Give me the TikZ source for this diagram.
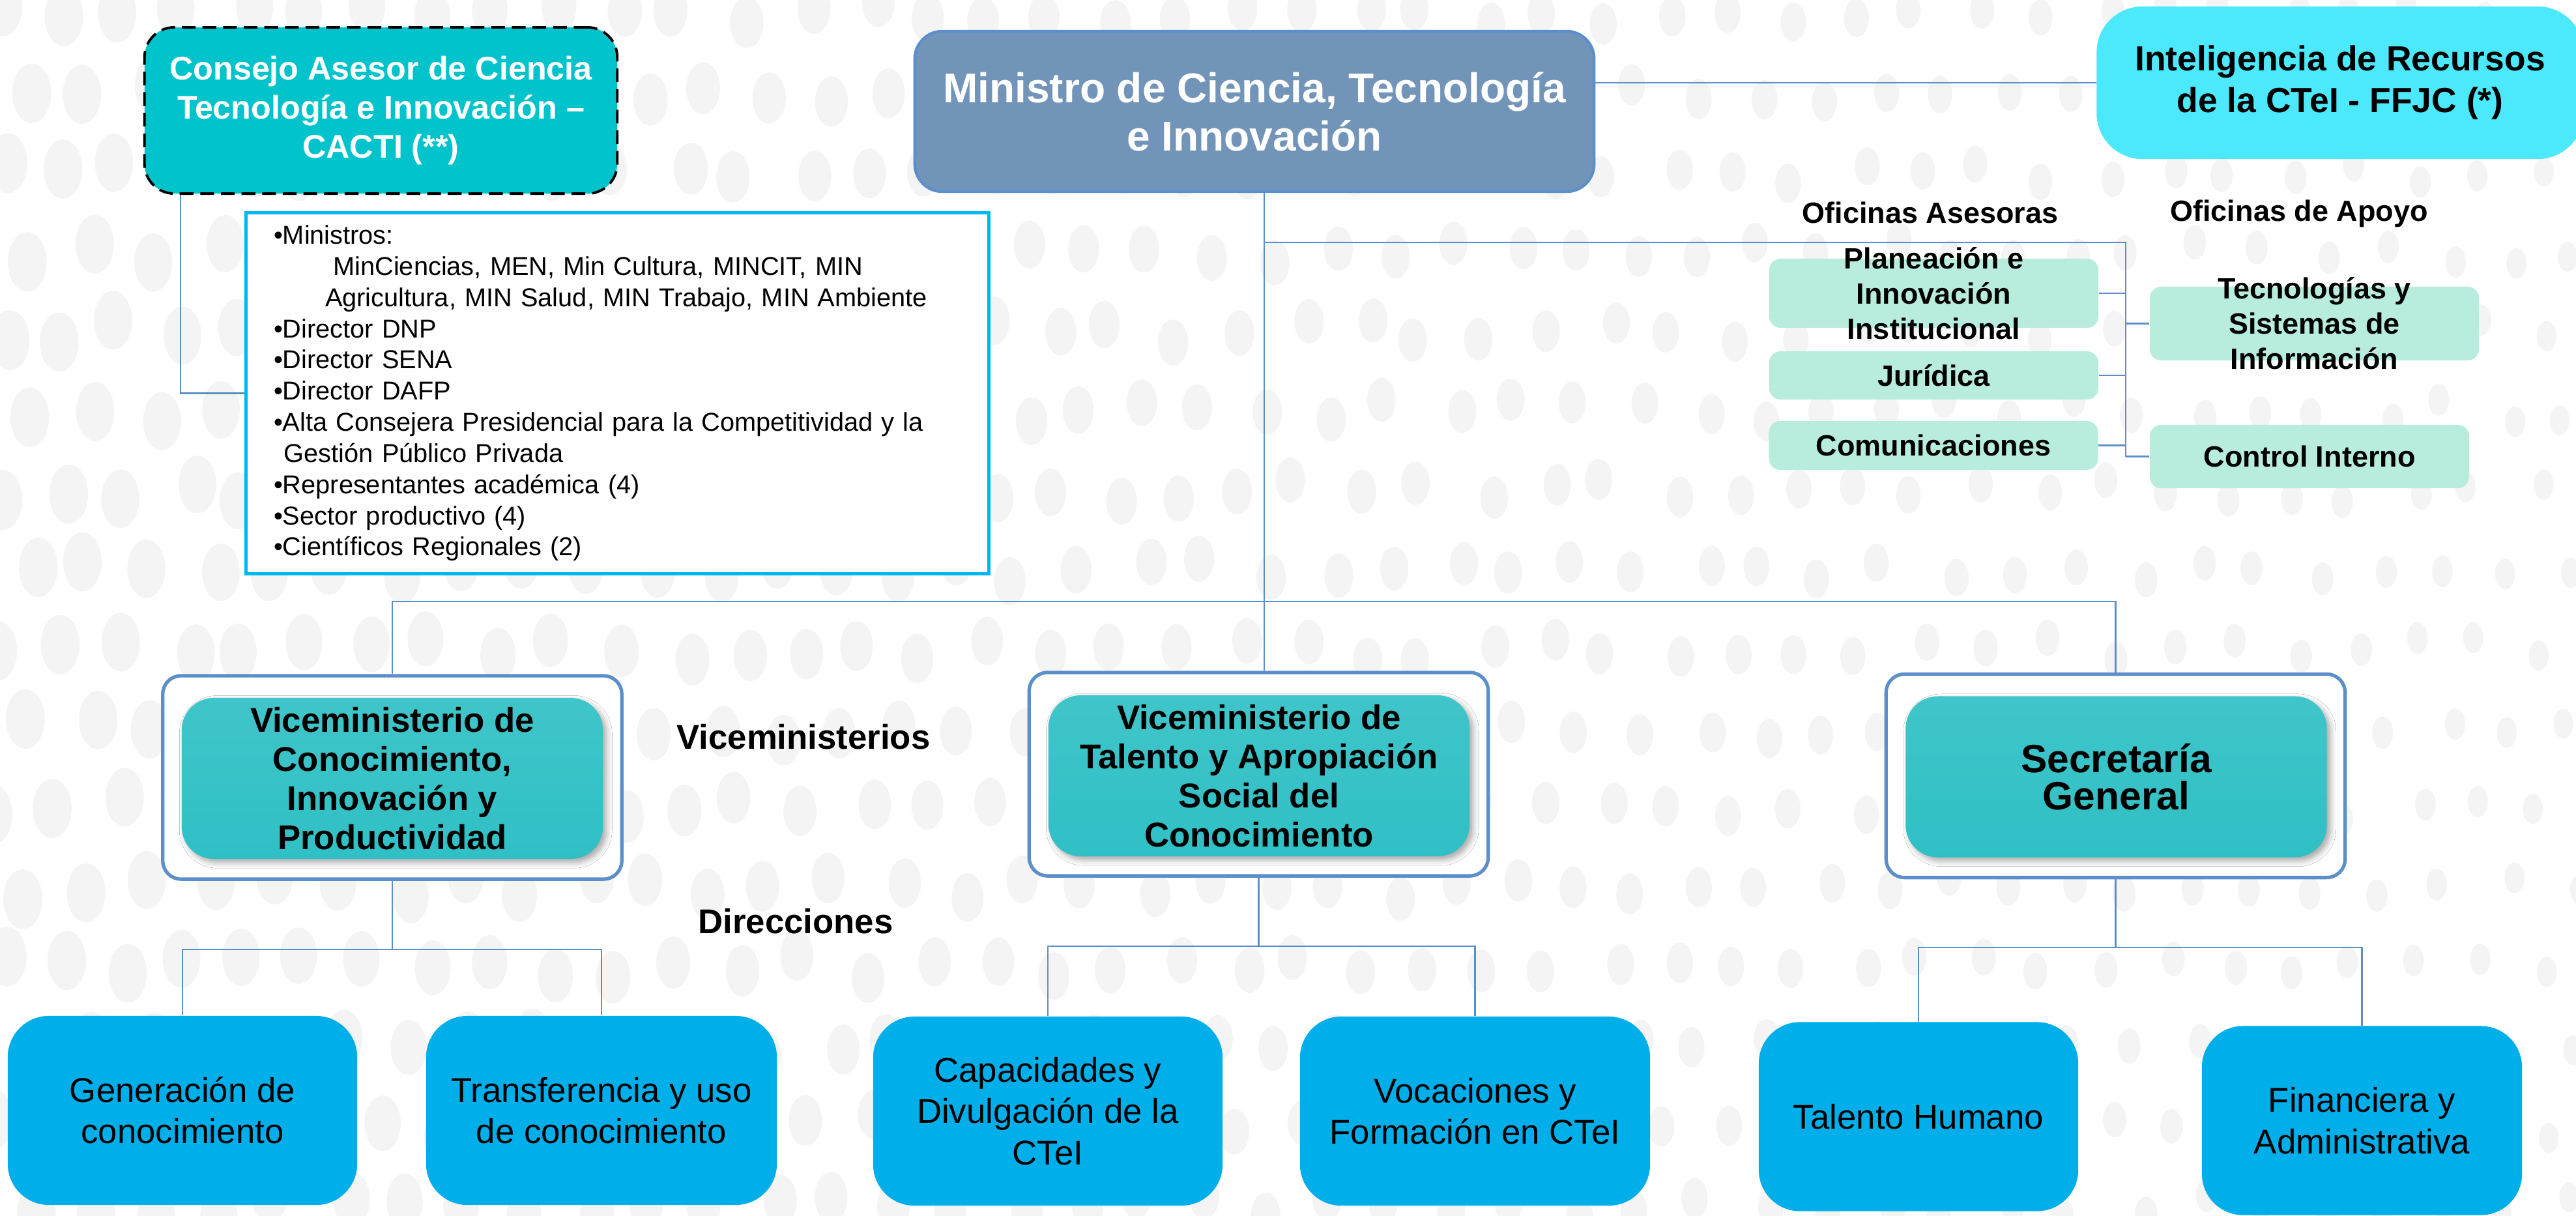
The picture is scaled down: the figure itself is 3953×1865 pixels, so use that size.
\documentclass[tikz,border=0pt]{standalone}
\usepackage{fontspec}
\setmainfont{Liberation Sans}
\usetikzlibrary{shadows.blur}

\definecolor{cactiteal}{HTML}{00C3CB}
\definecolor{minblue}{HTML}{7194B8}
\definecolor{minedge}{HTML}{5B8FCB}
\definecolor{intelcyan}{HTML}{4CE9FD}
\definecolor{mint}{HTML}{B8ECDC}
\definecolor{viceteal}{HTML}{2FC0C5}
\definecolor{dirblue}{HTML}{00AEE9}
\definecolor{listcyan}{HTML}{00B8EF}
\definecolor{linkblue}{HTML}{5B8FC9}
\definecolor{dotgray}{HTML}{F4F4F4}

\tikzset{
	conn/.style={draw=linkblue, line width=0.6pt},
	cactibox/.style={
			fill=cactiteal, draw=black, line width=1.1pt, dash pattern=on 6pt off 3pt,
			rounded corners=13pt, minimum width=7.25cm, minimum height=2.55cm,
			align=center, text=white, font=\fontsize{14.3}{17}\selectfont\bfseries
		},
	minbox/.style={
			fill=minblue, draw=minedge, line width=1.2pt, rounded corners=12pt,
			minimum width=10.42cm, minimum height=2.46cm,
			align=center, text=white, font=\fontsize{18.2}{21}\selectfont\bfseries
		},
	intelbox/.style={
			fill=intelcyan, rounded corners=20pt, minimum width=7.47cm, minimum height=2.34cm,
			align=center, font=\fontsize{15.2}{18.2}\selectfont\bfseries
		},
	listbox/.style={
			draw=listcyan, line width=1.4pt, fill=white, minimum width=11.39cm, minimum height=5.53cm,
			text width=300pt, inner xsep=11pt, align=left, font=\fontsize{11.3}{13.6}\selectfont
		},
	offlabel/.style={anchor=base, font=\fontsize{12.8}{15}\selectfont\bfseries},
	mintbox/.style={
			fill=mint, rounded corners=5pt, minimum width=5.05cm, inner sep=0pt, inner ysep=-9pt,
			align=center, font=\fontsize{12.8}{15.4}\selectfont\bfseries
		},
	viceframe/.style={
			draw=linkblue, line width=1.5pt, fill=white, rounded corners=8pt,
			minimum width=7.04cm, minimum height=3.12cm
		},
	vicebox/.style={
			top color=viceteal!92!white, bottom color=viceteal, rounded corners=14pt,
			minimum width=6.46cm, minimum height=2.47cm, align=center,
			blur shadow={shadow xshift=1.5pt, shadow yshift=-1.5pt, shadow blur radius=2.5pt, shadow opacity=35}
		},
	vicetext/.style={font=\fontsize{15}{17}\selectfont\bfseries},
	sectlabel/.style={anchor=base, font=\fontsize{15}{18}\selectfont\bfseries},
	dirbox/.style={
			fill=dirblue, rounded corners=18pt, minimum height=2.9cm,
			align=center, font=\fontsize{15}{18}\selectfont
		}
}

\begin{document}
\begin{tikzpicture}[x=0.01cm, y=-0.01cm]

	\useasboundingbox (0,0) rectangle (3953,1865);
	\clip (0,0) rectangle (3953,1865);

	% Background dots
	\pgfmathsetseed{42}
	\foreach \i in {0,...,42}{
			\foreach \j in {0,...,15}{
					\pgfmathsetmacro{\dx}{\i*95 + mod(\j,2)*47 + rand*18}
					\pgfmathsetmacro{\dy}{\j*122 + 20 + rand*18}
					\pgfmathsetmacro{\rx}{0.3*(1 - 0.5*\dx/3953)}
					\pgfmathsetmacro{\ry}{0.46*(1 - 0.5*\dx/3953)}
					\fill[dotgray] (\dx,\dy) ellipse [x radius=\rx cm, y radius=\ry cm];
				}
		}

	% Top row
	\node[cactibox] (cacti) at (584.5,169.5) {Consejo Asesor de Ciencia\\Tecnología e Innovación –\\CACTI (**)};
	\node[minbox] (min) at (1925,171) {Ministro de Ciencia, Tecnología\\e Innovación};
	\node[intelbox] (intel) at (3591,127) {Inteligencia de Recursos\\de la CTeI - FFJC (*)};

	% CACTI members
	\node[listbox] (bul) at (947.5,603.5) {•Ministros:\\
		\hspace*{26pt}MinCiencias, MEN, Min Cultura, MINCIT, MIN\\
		\hspace*{22.5pt}Agricultura, MIN Salud, MIN Trabajo, MIN Ambiente\\
		•Director DNP\\
		•Director SENA\\
		•Director DAFP\\
		•Alta Consejera Presidencial para la Competitividad y la\\
		\hspace*{4.5pt}Gestión Público Privada\\
		•Representantes académica (4)\\
		•Sector productivo (4)\\
		•Científicos Regionales (2)};

	% Offices
	\node[offlabel] (asesor) at (2962,342) {Oficinas Asesoras};
	\node[offlabel] (apoyo) at (3528,339) {Oficinas de Apoyo};
	\node[mintbox, minimum height=1.06cm] (plan) at (2967.5,450) {Planeación e\\Innovación\\Institucional};
	\node[mintbox, minimum height=0.74cm] (jur) at (2967.5,576) {Jurídica};
	\node[mintbox, minimum height=0.75cm] (com) at (2967,683.5) {Comunicaciones};
	\node[mintbox, minimum height=1.13cm] (tec) at (3551.5,496.5) {Tecnologías y\\Sistemas de\\Información};
	\node[mintbox, minimum width=4.9cm, minimum height=0.97cm] (ctrl) at (3544,700.5) {Control Interno};

	% Viceministerios
	\node[viceframe] (vmAf) at (602,1193) {};
	\node[vicebox] (vmA) at (602,1194.5) {};
	\node[vicetext, align=center] at (vmA) {Viceministerio de\\Conocimiento,\\Innovación y\\Productividad};
	\node[viceframe] (vmBf) at (1931.5,1188) {};
	\node[vicebox] (vmB) at (1932,1190.5) {};
	\node[vicetext, align=center] at (vmB) {Viceministerio de\\Talento y Apropiación\\Social del\\Conocimiento};
	\node[viceframe] (vmCf) at (3246.5,1190.5) {};
	\node[vicebox] (vmC) at (3247.5,1192) {};
	\node[align=center, font=\fontsize{17.2}{16.2}\selectfont\bfseries] at (vmC) {Secretaría\\General};

	\node[sectlabel] (vlab) at (1233,1149) {Viceministerios};
	\node[sectlabel] (dlab) at (1221,1432) {Direcciones};

	% Direcciones
	\node[dirbox, minimum width=5.36cm] (gen) at (280,1704) {Generación de\\conocimiento};
	\node[dirbox, minimum width=5.38cm] (tra) at (923,1704) {Transferencia y uso\\de conocimiento};
	\node[dirbox, minimum width=5.36cm] (cap) at (1608,1705) {Capacidades y\\Divulgación de la\\CTeI};
	\node[dirbox, minimum width=5.37cm] (voc) at (2263.5,1705) {Vocaciones y\\Formación en CTeI};
	\node[dirbox, minimum width=4.9cm] (tal) at (2944,1713.5) {Talento Humano};
	\node[dirbox, minimum width=4.91cm] (fin) at (3624.5,1719.5) {Financiera y\\Administrativa};

	% Connectors
	\coordinate (ofbus) at (3262,372);
	\coordinate (vbus) at (1940,923);
	\draw[conn] (intel.west) -- (intel.west -| min.east);
	\draw[conn] (bul.west) -| ([xshift=0.57cm]cacti.south west);
	\draw[conn] (min.south -| vbus) -- (vbus |- vmBf.north);
	\draw[conn] (vbus |- ofbus) -- (ofbus) -- (ofbus |- ctrl);
	\foreach \o in {plan,jur,com} \draw[conn] (\o.east) -- (\o.east -| ofbus);
	\foreach \o in {tec,ctrl} \draw[conn] (\o.west) -- (\o.west -| ofbus);
	\draw[conn] (vmAf.north) |- (vbus) -| (vmCf.north);
	\foreach \v/\l/\r in {vmAf/gen/tra, vmBf/cap/voc, vmCf/tal/fin}{
			\draw[conn] (\v.south) -- ++(0,105) coordinate (j);
			\draw[conn] (\l.north) |- (j) -| (\r.north);
		}

\end{tikzpicture}
\end{document}
